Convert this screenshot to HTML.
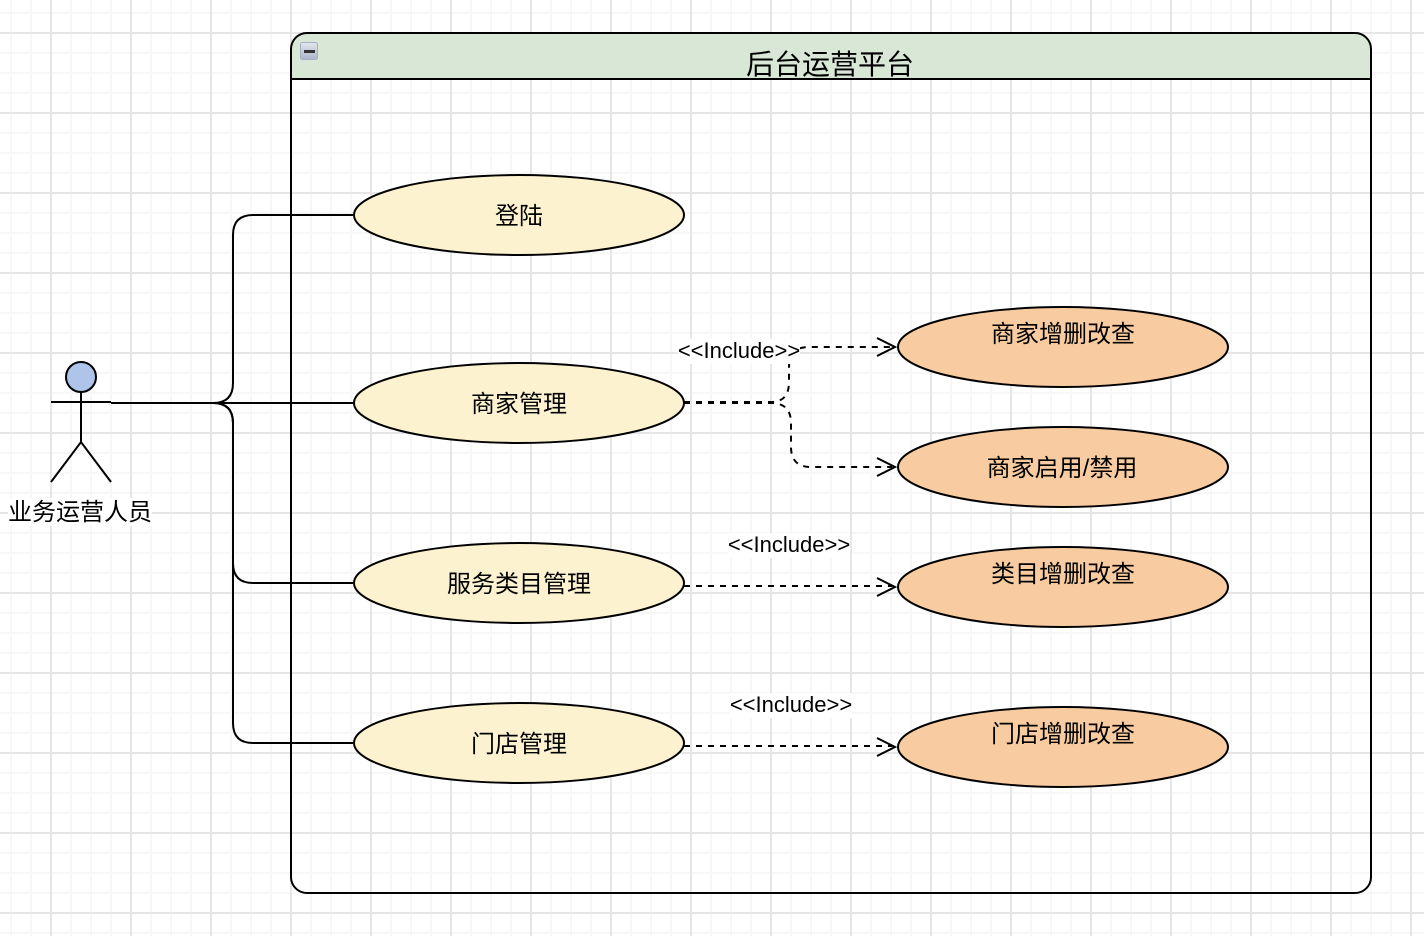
<!DOCTYPE html>
<html>
<head>
<meta charset="utf-8">
<style>
html,body{margin:0;padding:0;background:#fff;width:1424px;height:936px;overflow:hidden}
svg{display:block}
.t{font-family:"Liberation Sans","Noto Sans CJK SC",sans-serif;font-size:24px;fill:#000;text-anchor:middle}
.i{font-family:"Liberation Sans",sans-serif;font-size:22px;fill:#000;text-anchor:middle}
</style>
</head>
<body>
<svg width="1424" height="936" viewBox="0 0 1424 936" xmlns="http://www.w3.org/2000/svg">
<defs>
<pattern id="minor" width="20" height="20" patternUnits="userSpaceOnUse" patternTransform="translate(1 3)">
<path d="M10 0V20M0 10H20" stroke="#f7f7f8" stroke-width="2" fill="none"/>
</pattern>
<pattern id="major" width="80" height="80" patternUnits="userSpaceOnUse" patternTransform="translate(11 -7)">
<path d="M40 0V80M0 40H80" stroke="#e6e6e7" stroke-width="2" fill="none"/>
</pattern>
<linearGradient id="btn" x1="0" y1="0" x2="0" y2="1">
<stop offset="0" stop-color="#e4e8ee"/>
<stop offset="1" stop-color="#a9b5c9"/>
</linearGradient>
</defs>
<rect width="1424" height="936" fill="#fff"/>
<rect width="1424" height="936" fill="url(#minor)"/>
<rect width="1424" height="936" fill="url(#major)"/>

<path d="M291 79V49A16 16 0 0 1 307 33H1355A16 16 0 0 1 1371 49V79Z" fill="#d8e7d6"/>
<path d="M291 79H1371M307 33H1355A16 16 0 0 1 1371 49V877A16 16 0 0 1 1355 893H307A16 16 0 0 1 291 877V49A16 16 0 0 1 307 33Z" fill="none" stroke="#000" stroke-width="2"/>
<rect x="300.500" y="42.500" width="17" height="17" rx="2" fill="url(#btn)" stroke="#a4afc2" stroke-width="1"/>
<rect x="304" y="50" width="11" height="3" fill="#333"/>
<text x="830" y="74" font-family="'Liberation Sans','Noto Sans CJK SC',sans-serif" font-size="28" text-anchor="middle" fill="#000">后台运营平台</text>

<g fill="none" stroke="#000" stroke-width="2">
<path d="M111 403H353"/>
<path d="M213 403Q233 403 233 383V235Q233 215 253 215H353"/>
<path d="M213 403Q233 403 233 423V563Q233 583 253 583H353"/>
<path d="M213 403Q233 403 233 423V723Q233 743 253 743H353"/>
</g>

<g fill="#fcf2d0" stroke="#000" stroke-width="2">
<ellipse cx="519" cy="215" rx="165" ry="40"/>
<ellipse cx="519" cy="403" rx="165" ry="40"/>
<ellipse cx="519" cy="583" rx="165" ry="40"/>
<ellipse cx="519" cy="743" rx="165" ry="40"/>
</g>
<g fill="#f8cca0" stroke="#000" stroke-width="2">
<ellipse cx="1063" cy="347" rx="165" ry="40"/>
<ellipse cx="1063" cy="467" rx="165" ry="40"/>
<ellipse cx="1063" cy="587" rx="165" ry="40"/>
<ellipse cx="1063" cy="747" rx="165" ry="40"/>
</g>

<g fill="none" stroke="#000" stroke-width="2">
<path d="M684 402H771Q789 402 789 382V367Q789 347 809 347H892" stroke-dasharray="6 6"/>
<path d="M684 403H771Q791 403 791 423V447Q791 467 811 467H892" stroke-dasharray="6 6"/>
<path d="M684 586H892" stroke-dasharray="6 6"/>
<path d="M684 746H892" stroke-dasharray="6 6"/>
<path d="M877 338L895 347L877 356M877 458L895 467L877 476M877 578L895 587L877 596M877 738L895 747L877 756"/>
</g>

<rect x="678" y="339" width="122" height="25" fill="#fff"/>
<text class="i" x="739" y="358">&lt;&lt;Include&gt;&gt;</text>
<rect x="728" y="533" width="122" height="25" fill="#fff"/>
<text class="i" x="789" y="552">&lt;&lt;Include&gt;&gt;</text>
<rect x="730" y="693" width="122" height="25" fill="#fff"/>
<text class="i" x="791" y="712">&lt;&lt;Include&gt;&gt;</text>

<text class="t" x="519" y="224">登陆</text>
<text class="t" x="519" y="412">商家管理</text>
<text class="t" x="519" y="592">服务类目管理</text>
<text class="t" x="519" y="752">门店管理</text>
<text class="t" x="1063" y="342">商家增删改查</text>
<text class="t" x="1062" y="476">商家启用/禁用</text>
<text class="t" x="1063" y="582">类目增删改查</text>
<text class="t" x="1063" y="742">门店增删改查</text>

<circle cx="81" cy="377" r="15" fill="#aec4e8" stroke="#000" stroke-width="2"/>
<path d="M81 392V442M51 402H111M51 482L81 442L111 482" fill="none" stroke="#000" stroke-width="2"/>
<rect x="8" y="498" width="144" height="28" fill="#fff"/>
<text class="t" x="80" y="520">业务运营人员</text>
</svg>
</body>
</html>
